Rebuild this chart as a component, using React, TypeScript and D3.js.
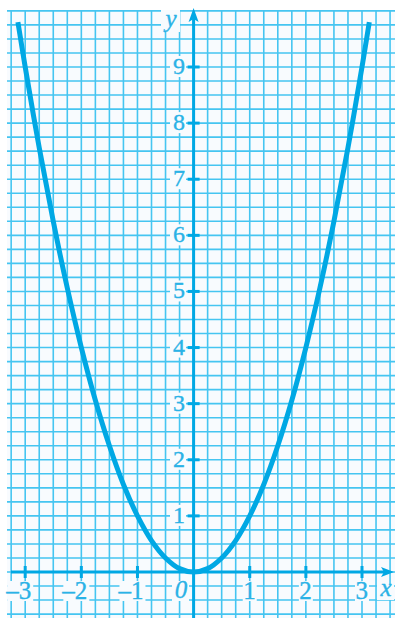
import React from "react";
import * as d3 from "d3";

const W = 395;
const H = 618;

const xTicks = [-3, -2, -1, 1, 2, 3];
const yTicks = [1, 2, 3, 4, 5, 6, 7, 8, 9];
// points (x, y)
const curveX = [-3.13, -3, -2.75, -2.5, -2.25, -2, -1.75, -1.5, -1.25, -1, -0.75, -0.5, -0.25, 0, 0.25, 0.5, 0.75, 1, 1.25, 1.5, 1.75, 2, 2.25, 2.5, 2.75, 3, 3.13];
const curveY = [9.8, 9, 7.56, 6.25, 5.06, 4, 3.06, 2.25, 1.56, 1, 0.56, 0.25, 0.06, 0, 0.06, 0.25, 0.56, 1, 1.56, 2.25, 3.06, 4, 5.06, 6.25, 7.56, 9, 9.8];

const GRID = "#45c5f1";
const AXIS = "#00a8e4";
const TEXT = "#2ab2e6";
const BG = "#f8fbfe";

export default function App() {
  const x = d3.scaleLinear().domain([-3, 3]).range([25.2, 362]);
  const y = d3.scaleLinear().domain([0, 9]).range([572, 67]);
  const x0 = x(0);
  const y0 = y(0);
  const stepX = (x(1) - x(0)) / 4;
  const stepY = (y(0) - y(1)) / 4;

  const vLines: number[] = [];
  for (let k = -13; k <= 14; k++) vLines.push(x0 + k * stepX);
  const hLines: number[] = [];
  for (let k = -4; k <= 40; k++) hLines.push(y0 - k * stepY);

  const pts: [number, number][] = curveX.map((v, i) => [v, curveY[i]]);
  const line = d3
    .line<[number, number]>()
    .x((d) => x(d[0]))
    .y((d) => y(d[1]))
    .curve(d3.curveCatmullRom.alpha(0.5));

  const font = "Liberation Serif";
  const top = 10;
  const tStroke = { stroke: TEXT, strokeWidth: 0.35 };

  return (
    <svg
      width={W}
      height={H}
      style={{ position: "absolute", left: 0, top: 0, background: "#ffffff" }}
    >
      <rect x={7} y={top} width={W - 7} height={H - top} fill={BG} />
      {vLines.map((vx, i) => (
        <line key={"v" + i} x1={vx} x2={vx} y1={top} y2={H} stroke={GRID} strokeWidth={1.6} />
      ))}
      {hLines.map((hy, i) =>
        hy >= top - 0.5 ? (
          <line key={"h" + i} x1={7} x2={W} y1={hy} y2={hy} stroke={GRID} strokeWidth={1.6} />
        ) : null
      )}

      {/* label backgrounds */}
      {yTicks.map((t) => (
        <rect key={"yb" + t} x={170} y={y(t) - 11} width={16} height={21} fill={BG} />
      ))}
      {xTicks.map((t) => (
        <rect
          key={"xb" + t}
          x={x(t) - (t < 0 ? 18 : 7)}
          y={y0 + 9}
          width={t < 0 ? 26 : 14}
          height={20}
          fill={BG}
        />
      ))}
      <rect x={172} y={y0 + 9} width={17} height={20} fill={BG} />
      <rect x={377} y={y0 + 12} width={17} height={16} fill={BG} />
      <rect x={161} y={10} width={19} height={22} fill={BG} />

      {/* axes */}
      <line x1={11} x2={W - 8} y1={y0} y2={y0} stroke={AXIS} strokeWidth={3} />
      <path d={`M${W - 1},${y0} L${W - 14},${y0 - 5} L${W - 11},${y0} L${W - 14},${y0 + 5} Z`} fill={AXIS} />
      <line x1={x0} x2={x0} y1={H} y2={16} stroke={AXIS} strokeWidth={3} />
      <path d={`M${x0},${8} L${x0 - 5},${22} L${x0},${19} L${x0 + 5},${22} Z`} fill={AXIS} />

      {xTicks.map((t) => (
        <line key={"xt" + t} x1={x(t)} x2={x(t)} y1={y0 - 6} y2={y0 + 6} stroke={AXIS} strokeWidth={3} />
      ))}
      {yTicks.map((t) => (
        <line key={"yt" + t} x1={x0 - 6} x2={x0 + 6} y1={y(t)} y2={y(t)} stroke={AXIS} strokeWidth={3} />
      ))}

      {/* curve */}
      <path d={line(pts) || ""} fill="none" stroke={AXIS} strokeWidth={5} strokeLinecap="butt" />

      {/* labels */}
      {yTicks.map((t) => (
        <text key={"yl" + t} x={185} y={y(t) + 7} textAnchor="end" fontFamily={font} fontSize={24} fill={TEXT} {...tStroke}>
          {t}
        </text>
      ))}
      {xTicks.map((t) => (
        <text
          key={"xl" + t}
          x={x(t) + 6}
          y={y0 + 27}
          textAnchor="end"
          fontFamily={font}
          fontSize={25}
          fill={TEXT}
          {...tStroke}
        >
          {t < 0 ? "\u2013" + Math.abs(t) : String(t)}
        </text>
      ))}
      <text x={181} y={y0 + 26} textAnchor="middle" fontFamily={font} fontStyle="italic" fontSize={25} fill={TEXT} {...tStroke}>
        0
      </text>
      <text x={386} y={y0 + 24} textAnchor="middle" fontFamily={font} fontStyle="italic" fontSize={25} fill={TEXT} {...tStroke}>
        x
      </text>
      <text x={171} y={27} textAnchor="middle" fontFamily={font} fontStyle="italic" fontSize={25} fill={TEXT} {...tStroke}>
        y
      </text>
    </svg>
  );
}
